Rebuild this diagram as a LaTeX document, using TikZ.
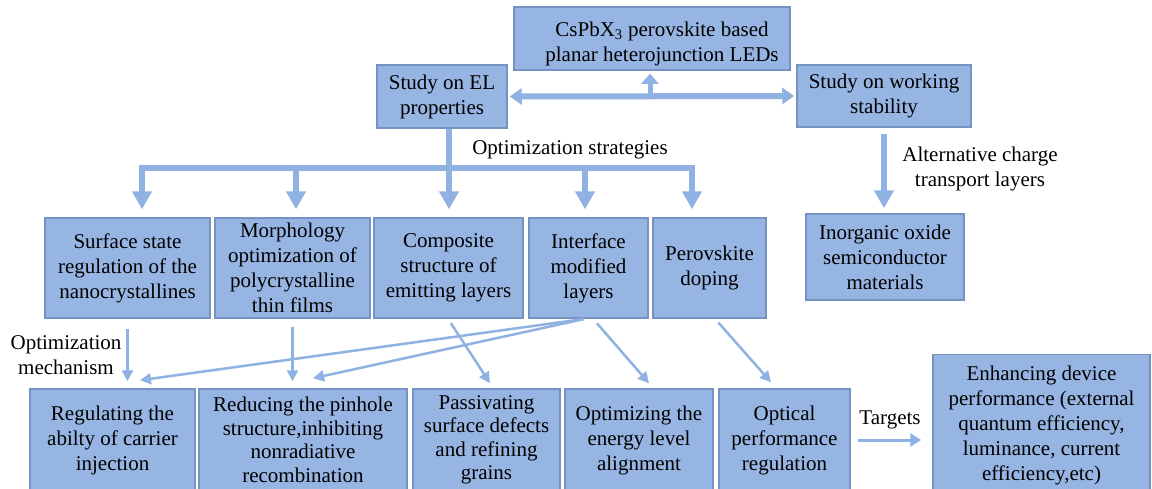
\documentclass[tikz,border=0pt]{standalone}
\usepackage{fontspec}
\setmainfont{Liberation Serif}
\usetikzlibrary{arrows.meta}
\definecolor{boxfill}{RGB}{151,181,227}
\definecolor{boxline}{RGB}{118,146,194}
\definecolor{arr}{RGB}{143,178,226}
\tikzset{
  box/.style={draw=boxline, line width=1.5pt, fill=boxfill, align=center, inner sep=2pt, font=\fontsize{21}{25}\selectfont},
  tightbox/.style={box, font=\fontsize{21}{23.5}\selectfont},
  lbl/.style={align=center, inner sep=1pt, font=\fontsize{21}{25}\selectfont},
  bigline/.style={draw=arr, line width=5.5pt, line cap=rect},
  bigarrow/.style={draw=arr, line width=5.5pt, -{Triangle[width=19pt,length=18pt]}},
  dblarrow/.style={draw=arr, line width=6pt, {Triangle[width=16pt,length=12pt]}-{Triangle[width=16pt,length=12pt]}},
  uparrow/.style={draw=arr, line width=5pt, -{Triangle[width=17pt,length=10pt]}},
  thinarrow/.style={draw=arr, line width=2.5pt, -{Triangle[width=11pt,length=11pt]}},
}
\begin{document}
\begin{tikzpicture}[x=1pt,y=-1pt]
\clip (0,0) rectangle (1152,488);
\fill[white] (0,0) rectangle (1152,488);

% top level
\node[box, minimum width=276pt, minimum height=63pt] (top) at (652,38.5) {};
\node[lbl] (toptext) at (662,44) {CsPbX\textsubscript{3} perovskite based\\planar heterojunction LEDs};
\node[box, minimum width=130pt, minimum height=63pt] (el) at (442,96.5) {Study on EL\\properties};
\node[box, minimum width=174pt, minimum height=62pt] (ws) at (884,96) {Study on working\\stability};

% row 2
\node[box, minimum width=165pt, minimum height=100pt] (s1) at (127.5,268) {Surface state\\regulation of the\\nanocrystallines};
\node[box, minimum width=155pt, minimum height=100pt] (s2) at (292.5,268) {Morphology\\optimization of\\polycrystalline\\thin films};
\node[box, minimum width=149pt, minimum height=100pt] (s3) at (448.5,268) {Composite\\structure of\\emitting layers};
\node[box, minimum width=119pt, minimum height=100pt] (s4) at (588.5,268) {Interface\\modified\\layers};
\node[box, minimum width=113pt, minimum height=100pt] (s5) at (709.5,268) {Perovskite\\doping};
\node[box, minimum width=158pt, minimum height=86pt] (inorg) at (885,257) {Inorganic oxide\\semiconductor\\materials};

% row 3
\node[box, minimum width=165pt, minimum height=102pt] (r1) at (112.5,440) {Regulating the\\abilty of carrier\\injection};
\node[tightbox, minimum width=208pt, minimum height=102pt] (r2) at (303,440) {Reducing the pinhole\\structure,inhibiting\\nonradiative\\recombination};
\node[tightbox, minimum width=147pt, minimum height=102pt] (r3) at (486.5,440) {Passivating\\surface defects\\and refining\\grains};
\node[box, minimum width=148pt, minimum height=102pt] (r4) at (639,440) {Optimizing the\\energy level\\alignment};
\node[box, minimum width=131pt, minimum height=102pt] (r5) at (784.5,440) {Optical\\performance\\regulation};
\node[box, minimum width=217pt, minimum height=141pt] (enh) at (1041.5,425) {Enhancing device\\performance (external\\quantum efficiency,\\luminance, current\\efficiency,etc)};

% labels
\node[lbl] (optstr) at (570,150) {Optimization strategies};
\node[lbl] (altct) at (980,169) {Alternative charge\\transport layers};
\node[lbl] (optmech) at (66,355) {Optimization\\mechanism};
\node[lbl] (targets) at (890,420) {Targets};

% top connectors
\coordinate (mid) at (650,97);
\draw[dblarrow, shorten <=2pt, shorten >=2pt] (el.east) -- (ws.west);
\draw[uparrow, shorten >=3pt] (mid) -- (mid |- top.south);
\draw[bigarrow, shorten <=6pt, shorten >=5pt] (ws.south) -- (ws.south |- inorg.north);

% optimization strategies bar
\coordinate (bar) at (449,168);
\coordinate (b1) at (142,168);
\coordinate (b2) at (296,168);
\coordinate (b4) at (585,168);
\coordinate (b5) at (692,168);
\draw[draw=arr, line width=5.5pt] ([xshift=7pt]el.south) -- (bar);
\draw[bigline] (b1) -- (b5);
\draw[bigarrow, shorten >=8pt] (b1) -- (b1 |- s1.north);
\draw[bigarrow, shorten >=8pt] (b2) -- (b2 |- s2.north);
\draw[bigarrow, shorten >=8pt] (bar) -- (bar |- s3.north);
\draw[bigarrow, shorten >=8pt] (b4) -- (b4 |- s4.north);
\draw[bigarrow, shorten >=8pt] (b5) -- (b5 |- s5.north);

% optimization mechanism arrows
\draw[thinarrow, shorten <=10pt, shorten >=7pt] (s1.south) -- (s1.south |- r1.north);
\draw[thinarrow, shorten <=8pt, shorten >=7pt] (s2.south) -- (s2.south |- r2.north);
\draw[thinarrow, shorten <=5pt] ([xshift=-0.5pt]s3.south) -- ([xshift=3.5pt,yshift=5pt]r3.north);
\draw[thinarrow, shorten <=2pt] ([xshift=-3pt]s4.south) -- ([xshift=27.5pt,yshift=8pt]r1.north);
\draw[thinarrow, shorten <=2pt] ([xshift=-3pt]s4.south) -- ([xshift=10pt,yshift=10pt]r2.north);
\draw[thinarrow, shorten <=6pt] ([xshift=4.5pt]s4.south) -- ([xshift=10pt,yshift=5pt]r4.north);
\draw[thinarrow, shorten <=5pt] ([xshift=5.5pt]s5.south) -- ([xshift=-13.5pt,yshift=6pt]r5.north);

% targets
\draw[draw=arr, line width=3pt, -{Triangle[width=13pt,length=11pt]}, shorten <=7pt, shorten >=11pt] (r5.east |- 0,440) -- (enh.west |- 0,440);
\end{tikzpicture}
\end{document}
